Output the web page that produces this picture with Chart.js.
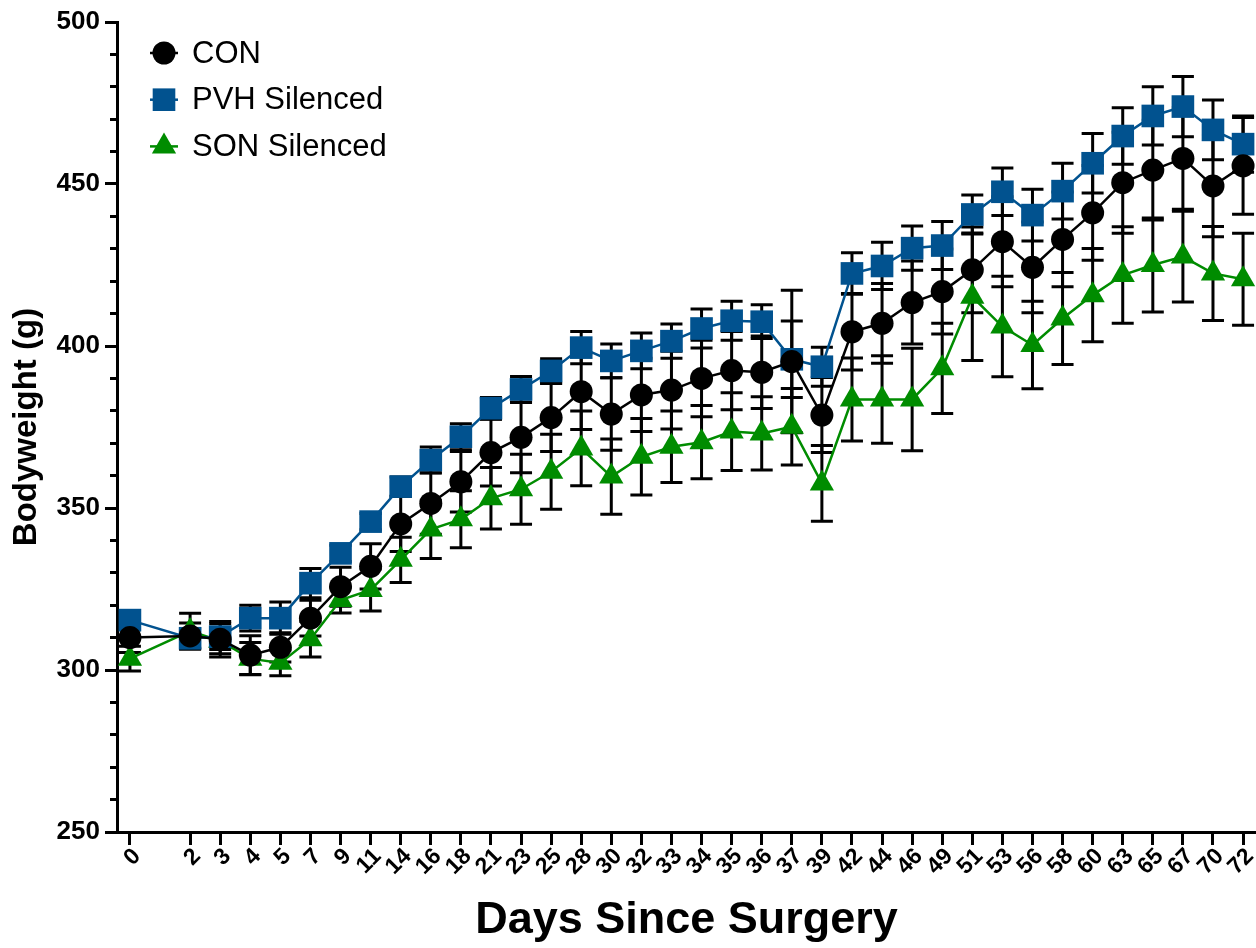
<!DOCTYPE html>
<html><head><meta charset="utf-8">
<script src="https://cdn.jsdelivr.net/npm/chart.js@4.4.1/dist/chart.umd.min.js"></script>
<style>html,body{margin:0;padding:0;background:#fff;}canvas{display:block;}</style>
</head><body>
<canvas id="c" width="1256" height="948"></canvas>
<script>
// ---- data ----
const dayLabels = ['0','','2','3','4','5','7','9','11','14','16','18','21','23','25','28','30','32','33','34','35','36','37','39','42','44','46','49','51','53','56','58','60','63','65','67','70','72'];
const seriesNames = ['CON', 'PVH Silenced', 'SON Silenced'];
const conMean = [310, null, 310.5, 309.5, 304.6, 307, 316, 325.7, 332, 345.1, 351.4, 358.1, 367.1, 371.8, 377.9, 385.9, 379, 384.9, 386.4, 390, 392.4, 391.9, 395.2, 378.7, 404.4, 407, 413.4, 416.8, 423.5, 432.2, 424.3, 432.9, 441.1, 450.4, 454.3, 457.9, 449.4, 455.6];
const conSem  = [4.6, null, 4, 5.5, 6, 4.5, 5.5, 6, 7, 8.5, 9.5, 9.3, 10.3, 10.9, 10.5, 11.7, 11.2, 11.3, 12, 11.8, 12.1, 11.2, 22, 11.6, 11.8, 12.3, 12.8, 13.1, 13.2, 13.9, 14, 14.6, 14.6, 15.6, 15.4, 15.7, 15.7, 14.9];
const pvhMean = [315.4, null, 309.8, 310.3, 316, 316, 326.8, 336, 345.8, 356.6, 364.8, 372, 380.8, 386.6, 392.3, 399.5, 395.4, 398.5, 401.5, 405.4, 407.8, 407.5, 395.9, 393.6, 422.4, 424.7, 430.2, 431, 440.6, 447.6, 440.4, 447.8, 456.4, 464.8, 471, 473.9, 466.7, 462.3];
const pvhSem  = [3, null, 3, 4, 4, 5, 4.5, 2.5, 2.5, 3, 4, 4, 3.3, 4, 3.8, 5, 5.2, 5.5, 5.3, 6, 6, 5.2, 11.8, 6, 6.4, 7.3, 6.8, 7.4, 6, 7.3, 8, 8.6, 9.2, 8.7, 9, 9.3, 9.2, 8.7];
const sonMean = [303.5, null, 312, 309, 303.5, 302.2, 309.5, 321.6, 324.7, 334, 343.4, 346.5, 353, 355.8, 361.2, 368.4, 359.7, 365.8, 368.9, 370.3, 373.6, 373, 375.1, 357.6, 383.5, 383.5, 383.5, 393.1, 415.2, 406, 400.3, 408.5, 415.7, 421.9, 425, 427.6, 422.4, 420.6];
const sonSem  = [3.8, null, 5.5, 4, 5, 4, 5.5, 4, 6.5, 7, 9, 8.8, 9.5, 10.8, 11.6, 11.5, 11.6, 11.8, 11, 11.3, 12, 11.3, 11.8, 11.7, 12.8, 13.5, 15.8, 13.9, 19.7, 15.5, 13.5, 14.2, 14.4, 14.9, 14.5, 14, 14.5, 14.2];
const yMin = 250, yMax = 500, yMajor = 50, yMinor = 10;

// ---- helpers ----
function toPoints(means) {
  const pts = [];
  means.forEach((v, i) => { if (v !== null) pts.push({x: i, y: v}); });
  return pts;
}
function toErrors(means, sems) {
  const out = [];
  means.forEach((v, i) => { if (v !== null) out.push(sems[i]); });
  return out;
}
const FONT = '"Liberation Sans", Arial, Helvetica, sans-serif';
Chart.defaults.font.family = FONT;
Chart.defaults.color = '#000';

const errorBars = {
  id: 'errorBars',
  beforeDatasetsDraw(chart) {
    const ctx = chart.ctx, xs = chart.scales.x, ys = chart.scales.y;
    ctx.save();
    ctx.strokeStyle = '#000';
    ctx.lineWidth = 3;
    chart.data.datasets.forEach(ds => {
      ds.data.forEach((p, i) => {
        const e = ds.errors[i];
        const px = xs.getPixelForValue(p.x);
        const yt = ys.getPixelForValue(p.y + e), yb = ys.getPixelForValue(p.y - e);
        ctx.beginPath();
        ctx.moveTo(px, yt); ctx.lineTo(px, yb);
        ctx.moveTo(px - 11, yt); ctx.lineTo(px + 11, yt);
        ctx.moveTo(px - 11, yb); ctx.lineTo(px + 11, yb);
        ctx.stroke();
      });
    });
    ctx.restore();
  }
};

const insetLegend = {
  id: 'insetLegend',
  afterDraw(chart) {
    const ctx = chart.ctx;
    ctx.save();
    chart.data.datasets.forEach((ds, i) => {
      const cy = 53 + i * 46.7, cx = 164;
      ctx.strokeStyle = ds.borderColor;
      ctx.lineWidth = ds.borderWidth;
      ctx.beginPath(); ctx.moveTo(cx - 14, cy); ctx.lineTo(cx + 14, cy); ctx.stroke();
      ctx.fillStyle = ds.pointBackgroundColor;
      Chart.helpers.drawPoint(ctx, {pointStyle: ds.pointStyle, radius: ds.pointRadius, borderWidth: 0, rotation: 0}, cx, cy);
      ctx.fillStyle = '#000';
      ctx.font = '31px ' + FONT;
      ctx.textBaseline = 'middle';
      ctx.textAlign = 'left';
      ctx.fillText(ds.label, 192, cy + 1);
    });
    ctx.restore();
  }
};

const colors = ['#000000', '#01528F', '#008C00'];
const styles = [['circle', 11.5], ['rect', 16], ['triangle', 14]];
const means = [conMean, pvhMean, sonMean];
const sems = [conSem, pvhSem, sonSem];

const datasets = seriesNames.map((name, k) => ({
  label: name,
  data: toPoints(means[k]),
  errors: toErrors(means[k], sems[k]),
  borderColor: colors[k],
  backgroundColor: colors[k],
  pointBackgroundColor: colors[k],
  pointBorderColor: colors[k],
  pointBorderWidth: 0,
  pointStyle: styles[k][0],
  pointRadius: styles[k][1],
  pointHoverRadius: styles[k][1],
  borderWidth: 2.5,
  tension: 0,
  fill: false
}));

const zeroPad = s => { s.paddingLeft = 0; s.paddingRight = 0; s.paddingTop = 0; s.paddingBottom = 0; };
const tickPositions = dayLabels.map((d, i) => d === '' ? null : i).filter(v => v !== null);

new Chart(document.getElementById('c'), {
  type: 'line',
  data: { datasets },
  plugins: [errorBars, insetLegend],
  options: {
    responsive: false,
    animation: false,
    devicePixelRatio: 1,
    layout: { autoPadding: false, padding: { top: 22, left: 0, right: 0, bottom: 0 } },
    plugins: { legend: { display: false }, tooltip: { enabled: false } },
    scales: {
      x: {
        type: 'linear',
        min: -0.43, max: 37.43,
        afterBuildTicks: s => { s.ticks = tickPositions.map(v => ({ value: v })); },
        afterFit: s => { s.height = 116; zeroPad(s); },
        border: { display: true, color: '#000', width: 3 },
        grid: { drawOnChartArea: false, drawTicks: true, tickLength: 13, tickWidth: 3, tickColor: '#000' },
        ticks: {
          autoSkip: false, minRotation: 45, maxRotation: 45, padding: -2, labelOffset: 7,
          font: { size: 23, weight: 'bold' }, color: '#000',
          callback: v => dayLabels[v]
        },
        title: { display: true, text: 'Days Since Surgery', font: { size: 45, weight: 'bold', lineHeight: 1.2 }, color: '#000', padding: { top: 0, bottom: 0 } }
      },
      y: {
        type: 'linear', position: 'left', weight: 1,
        min: yMin, max: yMax,
        afterFit: s => { s.width = 117; zeroPad(s); },
        border: { display: true, color: '#000', width: 3 },
        grid: { drawOnChartArea: false, drawTicks: true, tickLength: 12, tickWidth: 3, tickColor: '#000' },
        ticks: { stepSize: yMajor, padding: 5, font: { size: 26, weight: 'bold' }, color: '#000' },
        title: { display: true, text: 'Bodyweight (g)', font: { size: 33, weight: 'bold', lineHeight: 1.2 }, color: '#000', padding: { top: 7, bottom: 0 } }
      },
      yMinor: {
        type: 'linear', position: 'left', weight: 0,
        min: yMin, max: yMax,
        afterFit: s => { s.width = 0; zeroPad(s); },
        border: { display: false },
        grid: { drawOnChartArea: false, drawTicks: true, tickLength: 7, tickWidth: 3, tickColor: '#000' },
        ticks: { stepSize: yMinor, display: false }
      }
    }
  }
});
</script>
</body></html>
